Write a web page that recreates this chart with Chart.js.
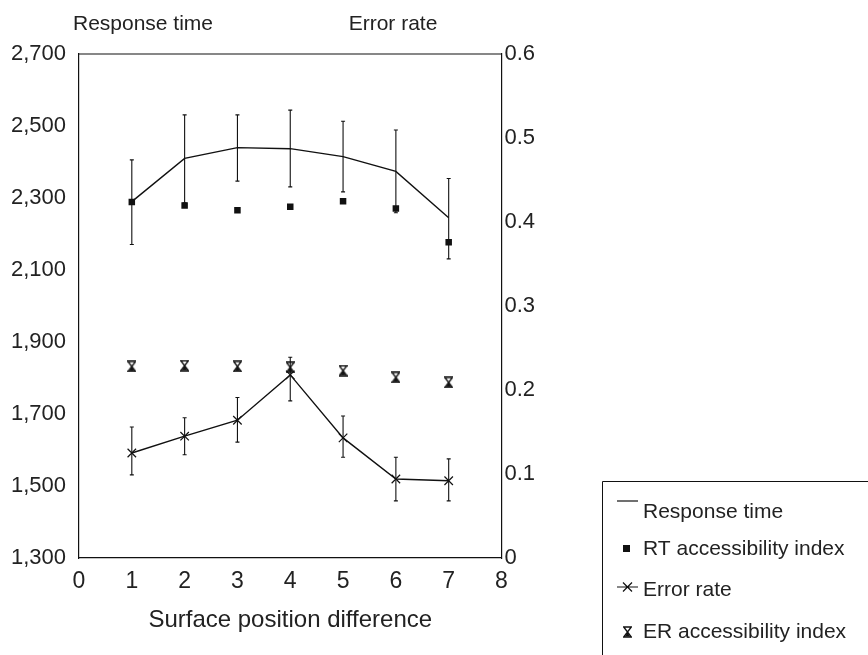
<!DOCTYPE html>
<html>
<head>
<meta charset="utf-8">
<script src="https://cdn.jsdelivr.net/npm/chart.js@4"></script>
<style>
html,body{margin:0;padding:0;background:#fff;}
canvas{display:block;}
</style>
</head>
<body>
<canvas id="c" width="868" height="655"></canvas>
<script>
// ---- data ----
const positions = [1, 2, 3, 4, 5, 6, 7];
const rtMean   = [2290, 2410, 2440, 2437, 2415, 2374, 2245];
const rtHigh   = [2406, 2531, 2531, 2544, 2513, 2489, 2354];
const rtLow    = [2171, 2287, 2347, 2331, 2317, 2259, 2131];
const rtAccess = [2289, 2279, 2266, 2276, 2291, 2271, 2177];
const erMean   = [0.125, 0.145, 0.164, 0.218, 0.143, 0.094, 0.092];
const erHigh   = [0.156, 0.167, 0.191, 0.239, 0.169, 0.120, 0.118];
const erLow    = [0.099, 0.123, 0.138, 0.187, 0.120, 0.068, 0.068];
const erAccess = [0.228, 0.229, 0.228, 0.227, 0.223, 0.215, 0.209];
const xTicks = [0, 1, 2, 3, 4, 5, 6, 7, 8];
const rtTicks = [1300, 1500, 1700, 1900, 2100, 2300, 2500, 2700];
const erTicks = [0, 0.1, 0.2, 0.3, 0.4, 0.5, 0.6];
const labels = ['Response time', 'RT accessibility index', 'Error rate', 'ER accessibility index'];
const leftTitle = 'Response time';
const rightTitle = 'Error rate';
const xTitle = 'Surface position difference';

const FONT = "'Liberation Sans', Arial, sans-serif";
const INK = '#111';
const TXT = '#222';

// hourglass marker
const hg = document.createElement('canvas');
hg.width = 9; hg.height = 12;
(function(){
  const c = hg.getContext('2d');
  c.strokeStyle = INK; c.lineWidth = 1.3;
  c.beginPath();
  c.moveTo(0.7, 1); c.lineTo(8.3, 1); c.lineTo(0.7, 11); c.lineTo(8.3, 11); c.closePath();
  c.stroke();
  c.fillStyle = INK;
  c.beginPath(); c.moveTo(4.5, 6); c.lineTo(7, 10.5); c.lineTo(2, 10.5); c.closePath(); c.fill();
})();

const pts = (ys) => positions.map((x, i) => ({x: x, y: ys[i]}));

const errorBars = {
  id: 'errorBars',
  afterDatasetsDraw(chart) {
    const ctx = chart.ctx, xs = chart.scales.x;
    const draw = (lo, hi, sc) => {
      positions.forEach((p, i) => {
        const x = xs.getPixelForValue(p);
        const y1 = sc.getPixelForValue(lo[i]);
        const y2 = sc.getPixelForValue(hi[i]);
        ctx.beginPath();
        ctx.moveTo(x, y1); ctx.lineTo(x, y2);
        ctx.moveTo(x - 2, y1); ctx.lineTo(x + 2, y1);
        ctx.moveTo(x - 2, y2); ctx.lineTo(x + 2, y2);
        ctx.stroke();
      });
    };
    ctx.save();
    ctx.strokeStyle = INK; ctx.lineWidth = 1.1;
    draw(rtLow, rtHigh, chart.scales.y);
    draw(erLow, erHigh, chart.scales.y1);
    ctx.restore();
  }
};

const decor = {
  id: 'decor',
  afterDraw(chart) {
    const ctx = chart.ctx, a = chart.chartArea;
    ctx.save();
    ctx.strokeStyle = INK; ctx.lineWidth = 1.2;
    // top frame line
    ctx.beginPath(); ctx.moveTo(a.left, a.top); ctx.lineTo(a.right, a.top); ctx.stroke();
    ctx.fillStyle = TXT;
    ctx.textAlign = 'center'; ctx.textBaseline = 'middle';
    ctx.font = '21px ' + FONT;
    ctx.fillText(leftTitle, 143, 24);
    ctx.fillText(rightTitle, 393, 24);
    ctx.font = '24px ' + FONT;
    ctx.textBaseline = 'alphabetic';
    ctx.fillText(xTitle, (a.left + a.right) / 2, 627);
    // legend box
    ctx.lineWidth = 1;
    ctx.beginPath();
    ctx.moveTo(602.5, 656); ctx.lineTo(602.5, 481.5); ctx.lineTo(868, 481.5);
    ctx.stroke();
    const ys = [512, 549, 590, 632];
    ctx.font = '21px ' + FONT;
    ctx.textAlign = 'left'; ctx.textBaseline = 'middle';
    labels.forEach((t, i) => ctx.fillText(t, 643, ys[i]));
    // symbols
    ctx.fillStyle = INK;
    ctx.lineWidth = 1.2;
    ctx.beginPath(); ctx.moveTo(617, 501); ctx.lineTo(638, 501); ctx.stroke();
    ctx.fillRect(623, 545, 7, 7);
    ctx.beginPath(); ctx.moveTo(617, 587); ctx.lineTo(638, 587);
    ctx.moveTo(623, 582.5); ctx.lineTo(632, 591.5);
    ctx.moveTo(632, 582.5); ctx.lineTo(623, 591.5);
    ctx.stroke();
    ctx.drawImage(hg, 623, 626);
    ctx.restore();
  }
};

new Chart(document.getElementById('c'), {
  type: 'line',
  data: {
    datasets: [
      { label: labels[0], data: pts(rtMean), yAxisID: 'y', borderColor: INK, borderWidth: 1.4,
        pointRadius: 0, tension: 0, fill: false },
      { label: labels[1], data: pts(rtAccess), yAxisID: 'y', showLine: false, pointStyle: 'rect',
        pointRadius: 4.6, backgroundColor: INK, borderColor: INK, borderWidth: 0 },
      { label: labels[2], data: pts(erMean), yAxisID: 'y1', borderColor: INK, borderWidth: 1.4,
        pointStyle: 'crossRot', pointRadius: 6, pointBorderWidth: 1.2, pointBorderColor: INK, tension: 0, fill: false },
      { label: labels[3], data: pts(erAccess), yAxisID: 'y1', showLine: false, pointStyle: hg,
        pointRadius: 5 }
    ]
  },
  options: {
    responsive: false,
    animation: false,
    layout: { padding: { left: 0, top: 54, right: 868 - 501.5 - 40, bottom: 655 - 558 - 40 } },
    plugins: { legend: { display: false }, tooltip: { enabled: false } },
    scales: {
      x: {
        type: 'linear', min: 0, max: 8,
        afterBuildTicks(s) { s.ticks = xTicks.map(v => ({value: v})); },
        afterFit(s) { s.height = 40; },
        grid: { display: false, drawTicks: false },
        border: { display: true, color: INK, width: 1.2 },
        ticks: { color: TXT, font: { family: FONT, size: 23 }, padding: 10, maxRotation: 0 }
      },
      y: {
        position: 'left', min: 1300, max: 2700,
        afterBuildTicks(s) { s.ticks = rtTicks.map(v => ({value: v})); },
        afterFit(s) { s.width = 79; },
        grid: { display: false, drawTicks: false },
        border: { display: true, color: INK, width: 1.2 },
        ticks: { color: TXT, font: { family: FONT, size: 22 }, padding: 13,
          callback: v => v.toLocaleString('en-US') }
      },
      y1: {
        position: 'right', min: 0, max: 0.6,
        afterBuildTicks(s) { s.ticks = erTicks.map(v => ({value: v})); },
        afterFit(s) { s.width = 40; },
        grid: { display: false, drawTicks: false },
        border: { display: true, color: INK, width: 1.2 },
        ticks: { color: TXT, font: { family: FONT, size: 22 }, padding: 3,
          callback: v => String(Math.round(v * 10) / 10) }
      }
    }
  },
  plugins: [errorBars, decor]
});
</script>
</body>
</html>
